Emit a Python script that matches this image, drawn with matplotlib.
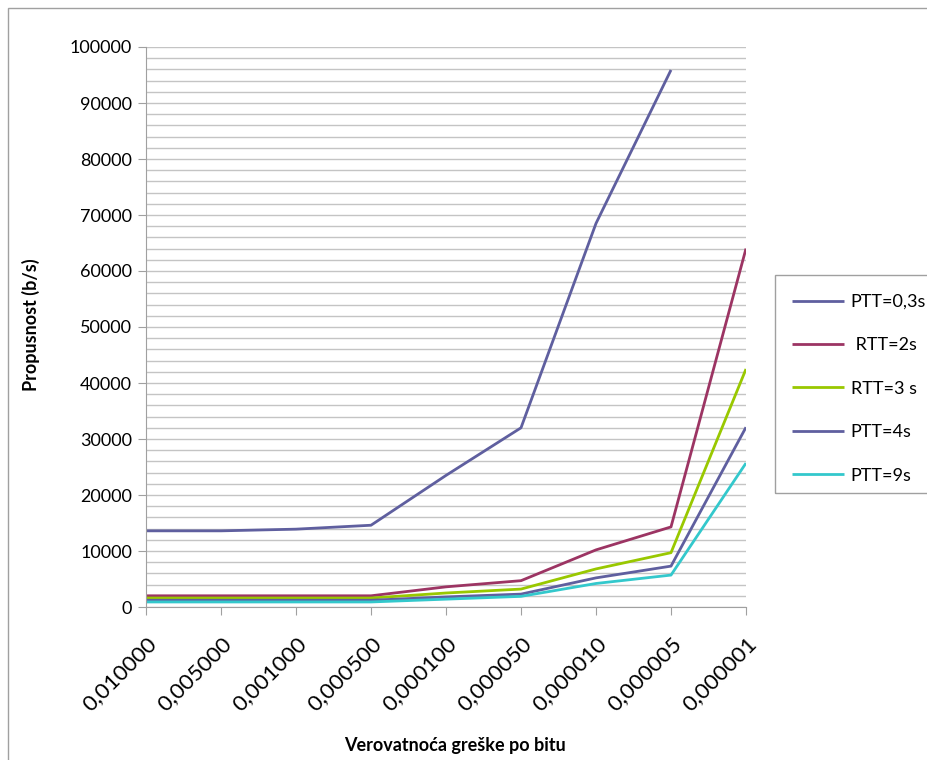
import matplotlib.pyplot as plt
import numpy as np
from matplotlib.patches import Rectangle

plt.rcParams['font.family'] = ['Lato', 'DejaVu Sans']

# bit error probability categories
ber = ['0,010000', '0,005000', '0,001000', '0,000500', '0,000100',
       '0,000050', '0,000010', '0,000005', '0,000001']

ptt_03 = [13600, 13600, 13900, 14600, 23500, 32000, 68500, 95900, np.nan]
rtt_2 = [2000, 2000, 2000, 2000, 3600, 4700, 10200, 14300, 64000]
rtt_3 = [1600, 1600, 1600, 1600, 2500, 3200, 6800, 9700, 42500]
ptt_4 = [1200, 1200, 1200, 1200, 1800, 2300, 5200, 7300, 32100]
ptt_9 = [900, 900, 900, 900, 1400, 1900, 4200, 5700, 25700]

labels = ['PTT=0,3s', ' RTT=2s', 'RTT=3 s', 'PTT=4s', 'PTT=9s']
colors = ['#5f5f9f', '#9c3463', '#99c800', '#5f5f9f', '#33c8cc']
series = [ptt_03, rtt_2, rtt_3, ptt_4, ptt_9]

W, H = 928, 760
fig = plt.figure(figsize=(W / 100, H / 100), dpi=100)

# outer chart frame
fig.patches.append(Rectangle((8 / W, -0.1), 1.1, 1 - 8 / H + 0.1,
                             transform=fig.transFigure, fill=False,
                             edgecolor='#a0a0a0', linewidth=1.0))
# legend frame runs off the right edge
fig.patches.append(Rectangle((775 / W, 1 - 493 / H), 0.3, 218 / H,
                             transform=fig.transFigure, fill=False,
                             edgecolor='#a0a0a0', linewidth=1.0))

ax = fig.add_axes([146 / W, 1 - 607 / H, 600 / W, 560 / H])
x = np.arange(len(ber))
for s, c, lab in zip(series, colors, labels):
    ax.plot(x, s, color=c, linewidth=2.0, label=lab, solid_capstyle='butt')

ax.set_xlim(0, len(ber) - 1)
ax.set_ylim(0, 100000)
ax.set_yticks(np.arange(0, 100001, 10000))
ax.set_yticks(np.arange(0, 100001, 2000), minor=True)
ax.tick_params(axis='y', which='minor', length=0)
ax.grid(axis='y', which='both', color='#c4c4c4', linewidth=1.0)
ax.set_axisbelow(True)
ax.set_xticks(x)
ax.set_xticklabels(ber, rotation=45, ha='right', va='top',
                   rotation_mode='anchor', fontsize=16)
ax.tick_params(axis='x', length=6, color='#a0a0a0', pad=13)
ax.tick_params(axis='y', length=6, color='#a0a0a0', labelsize=13, pad=4)
for side in ['top', 'right']:
    ax.spines[side].set_visible(False)
for side in ['left', 'bottom']:
    ax.spines[side].set_color('#a0a0a0')

fig.text(455 / W, 1 - 745 / H, 'Verovatnoća greške po bitu', ha='center',
         va='center', fontsize=13, fontweight='bold')
fig.text(31 / W, 1 - 325 / H, 'Propusnost (b/s)', ha='center', va='center',
         rotation=90, fontsize=13, fontweight='bold')

leg = ax.legend(loc='upper left', bbox_to_anchor=(781 / W, 1 - 283 / H),
                bbox_transform=fig.transFigure, fontsize=13, frameon=False,
                handlelength=2.9, labelspacing=1.52, borderpad=0.6,
                handletextpad=0.35, borderaxespad=0)

fig.savefig('out.png', dpi=100)
